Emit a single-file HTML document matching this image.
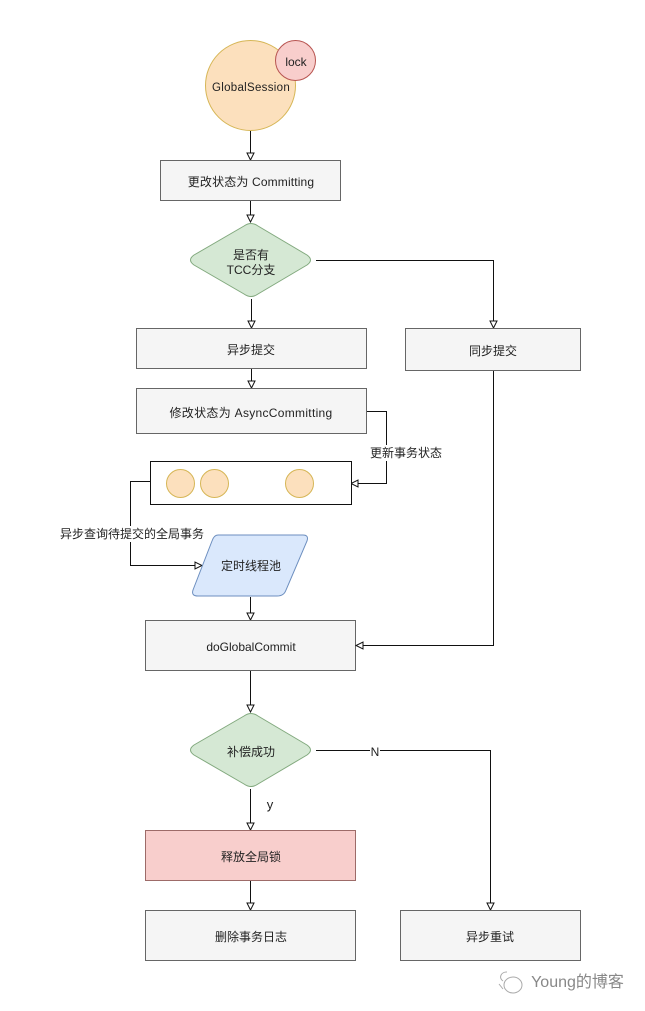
<!DOCTYPE html>
<html><head><meta charset="utf-8"><style>
html,body{margin:0;padding:0;background:#fff;width:645px;height:1011px;overflow:hidden}
svg{display:block}
text{font-family:"Liberation Sans","Noto Sans CJK SC",sans-serif;font-size:12px;fill:#222;text-anchor:middle}
.b{fill:#f5f5f5;stroke:#666;stroke-width:1}
.g{fill:#d5e8d4;stroke:#82a97e;stroke-width:1}
.l{fill:none;stroke:#111;stroke-width:1}
.a{fill:#fff;stroke:#111;stroke-width:1}
.c{fill:#fce0bd;stroke:#d6b656;stroke-width:1}
</style></head><body>
<svg width="645" height="1011" viewBox="0 0 645 1011" xmlns="http://www.w3.org/2000/svg">
<rect width="645" height="1011" fill="#fff"/>
<circle class="c" cx="250.500" cy="85.500" r="45"/>
<circle cx="295.500" cy="60.500" r="20" fill="#f8cecc" stroke="#b85450"/>
<text x="251" y="91" style="font-size:11.500px" letter-spacing=".3">GlobalSession</text>
<text x="296" y="66">lock</text>
<path class="l" d="M250.500 131V153"/><path class="a" d="M247 153h7l-3.500 7z"/>
<rect class="b" x="160.500" y="160.500" width="180" height="40"/>
<text x="251" y="186" letter-spacing=".15">更改状态为 Committing</text>
<path class="l" d="M250.500 201V215"/><path class="a" d="M247 215h7l-3.500 7z"/>
<path class="g" d="M244 226Q251 221 258 226L307 255Q314 260 307 265L258 294Q251 299 244 294L194 265Q187 260 194 255Z"/>
<text x="251" y="259">是否有</text><text x="251" y="274">TCC分支</text>
<path class="l" d="M251.500 299V321"/><path class="a" d="M248 321h7l-3.500 7z"/>
<path class="l" d="M316 260.500H493.500V321"/><path class="a" d="M490 321h7l-3.500 7z"/>
<rect class="b" x="136.500" y="328.500" width="230" height="40"/>
<text x="251" y="354">异步提交</text>
<rect class="b" x="405.500" y="328.500" width="175" height="42"/>
<text x="493" y="355">同步提交</text>
<path class="l" d="M251.500 369V381"/><path class="a" d="M248 381h7l-3.500 7z"/>
<rect class="b" x="136.500" y="388.500" width="230" height="45"/>
<text x="251" y="417" letter-spacing=".3">修改状态为 AsyncCommitting</text>
<path class="l" d="M367 411.500H386.500V483.500H358"/><path class="a" d="M358 480v7l-7-3.500z"/>
<rect x="370" y="445" width="72" height="16" fill="#fff"/>
<text x="406" y="457">更新事务状态</text>
<rect x="150.500" y="461.500" width="201" height="43" fill="#fff" stroke="#111"/>
<circle class="c" cx="180.500" cy="483.500" r="14"/>
<circle class="c" cx="214.500" cy="483.500" r="14"/>
<circle class="c" cx="299.500" cy="483.500" r="14"/>
<path class="l" d="M150 481.500H130.500V565.500H195"/><path class="a" d="M195 562v7l7-3.500z"/>
<rect x="60" y="526" width="143" height="16" fill="#fff"/>
<text x="132" y="538">异步查询待提交的全局事务</text>
<path d="M218 535H303Q309 535 307 541L286 590Q284 596 277 596H198Q191 596 193 590L212 541Q214 535 218 535Z" fill="#dae8fc" stroke="#6c8ebf"/>
<text x="251" y="570">定时线程池</text>
<path class="l" d="M250.500 597V613"/><path class="a" d="M247 613h7l-3.500 7z"/>
<rect class="b" x="145.500" y="620.500" width="210" height="50"/>
<text x="251" y="651">doGlobalCommit</text>
<path class="l" d="M493.500 371V645.500H363"/><path class="a" d="M363 642v7l-7-3.500z"/>
<path class="l" d="M250.500 671V705"/><path class="a" d="M247 705h7l-3.500 7z"/>
<path class="g" d="M244 716Q251 711 258 716L307 745Q314 750 307 755L258 784Q251 789 244 784L194 755Q187 750 194 745Z"/>
<text x="251" y="756">补偿成功</text>
<path class="l" d="M250.500 789V823"/><path class="a" d="M247 823h7l-3.500 7z"/>
<text x="270" y="809" style="font-size:13px">y</text>
<path class="l" d="M316 750.500H490.500V903"/><path class="a" d="M487 903h7l-3.500 7z"/>
<rect x="370" y="743" width="10" height="15" fill="#fff"/>
<text x="375" y="756" style="font-size:12px">N</text>
<rect x="145.500" y="830.500" width="210" height="50" fill="#f8cecc" stroke="#9d6b68"/>
<text x="251" y="861">释放全局锁</text>
<path class="l" d="M250.500 881V903"/><path class="a" d="M247 903h7l-3.500 7z"/>
<rect class="b" x="145.500" y="910.500" width="210" height="50"/>
<text x="251" y="941">删除事务日志</text>
<rect class="b" x="400.500" y="910.500" width="180" height="50"/>
<text x="490" y="941">异步重试</text>
<g fill="#fff" stroke="#aaa" stroke-width="1">
<ellipse cx="513" cy="985" rx="9" ry="8"/>
<path d="M507 972a6 5 0 0 0-4 9M499 984l4 5"/>
</g>
<text x="577.500" y="987" style="font-size:16px;fill:#888">Young的博客</text>
</svg>
</body></html>
